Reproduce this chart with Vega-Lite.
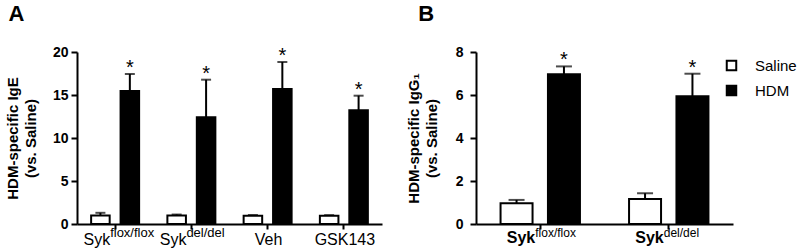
{
  "$schema": "https://vega.github.io/schema/vega-lite/v6.json",
  "padding": {"left": 5, "top": 3, "right": 0, "bottom": 0},
  "background": "white",
  "config": {
    "font": "Liberation Sans",
    "view": {"stroke": null},
    "concat": {"spacing": 24},
    "axis": {"grid": false, "domainColor": "black", "domainWidth": 2, "tickColor": "black", "tickWidth": 2, "tickSize": 6, "labelColor": "black", "titleColor": "black"}
  },
  "datasets": {
    "a": [
      {"group": "Sykflox", "treatment": "Saline", "mean": 1.0, "upper": 1.3, "sig": ""},
      {"group": "Sykflox", "treatment": "HDM", "mean": 15.47, "upper": 17.44, "sig": "*"},
      {"group": "Sykdel", "treatment": "Saline", "mean": 1.0, "upper": 1.1, "sig": ""},
      {"group": "Sykdel", "treatment": "HDM", "mean": 12.4, "upper": 16.78, "sig": "*"},
      {"group": "Veh", "treatment": "Saline", "mean": 0.95, "upper": 1.05, "sig": ""},
      {"group": "Veh", "treatment": "HDM", "mean": 15.7, "upper": 18.84, "sig": "*"},
      {"group": "GSK143", "treatment": "Saline", "mean": 0.95, "upper": 1.03, "sig": ""},
      {"group": "GSK143", "treatment": "HDM", "mean": 13.22, "upper": 14.92, "sig": "*"}
    ],
    "alab": [
      {"group": "Sykflox", "base": "Syk", "sup": "flox/flox", "plain": ""},
      {"group": "Sykdel", "base": "Syk", "sup": "del/del", "plain": ""},
      {"group": "Veh", "base": "", "sup": "", "plain": "Veh"},
      {"group": "GSK143", "base": "", "sup": "", "plain": "GSK143"}
    ],
    "b": [
      {"group": "Sykflox", "treatment": "Saline", "mean": 0.96, "upper": 1.12, "sig": ""},
      {"group": "Sykflox", "treatment": "HDM", "mean": 6.96, "upper": 7.33, "sig": "*"},
      {"group": "Sykdel", "treatment": "Saline", "mean": 1.16, "upper": 1.43, "sig": ""},
      {"group": "Sykdel", "treatment": "HDM", "mean": 5.94, "upper": 6.99, "sig": "*"}
    ],
    "blab": [
      {"group": "Sykflox", "base": "Syk", "sup": "flox/flox"},
      {"group": "Sykdel", "base": "Syk", "sup": "del/del"}
    ]
  },
  "hconcat": [
    {
      "width": 305,
      "height": 172,
      "title": {"text": "A", "anchor": "start", "frame": "bounds", "fontSize": 22, "fontWeight": "bold", "offset": 19, "dx": 3, "color": "black"},
      "layer": [
        {
          "data": {"name": "a"},
          "mark": {"type": "rule", "color": "black", "strokeWidth": 2},
          "encoding": {
            "x": {"field": "group", "type": "nominal", "scale": {"domain": ["Sykflox", "Sykdel", "Veh", "GSK143"], "paddingInner": 0, "paddingOuter": 0}, "axis": {"labels": false, "title": null, "tickSize": 5}},
            "xOffset": {"field": "treatment", "type": "nominal", "scale": {"domain": ["Saline", "HDM"], "paddingInner": 0.37, "paddingOuter": 0.48}},
            "y": {"field": "mean", "type": "quantitative", "scale": {"domain": [0, 20]}, "axis": {"values": [0, 5, 10, 15, 20], "labelFontSize": 14, "labelFontWeight": "bold", "labelPadding": 3, "title": ["HDM-specific IgE", "(vs. Saline)"], "titleFontSize": 15, "titleFontWeight": "bold", "titleLineHeight": 18, "titlePadding": 14}},
            "y2": {"field": "upper"}
          }
        },
        {
          "data": {"name": "a"},
          "mark": {"type": "tick", "orient": "horizontal", "size": 10, "thickness": 2, "color": "black"},
          "encoding": {
            "x": {"field": "group", "type": "nominal"},
            "xOffset": {"field": "treatment", "type": "nominal"},
            "y": {"field": "upper", "type": "quantitative"}
          }
        },
        {
          "data": {"name": "a"},
          "mark": {"type": "bar", "stroke": "black", "strokeWidth": 2},
          "encoding": {
            "x": {"field": "group", "type": "nominal"},
            "xOffset": {"field": "treatment", "type": "nominal"},
            "y": {"field": "mean", "type": "quantitative"},
            "fill": {"field": "treatment", "type": "nominal", "scale": {"domain": ["Saline", "HDM"], "range": ["white", "black"]}, "legend": null}
          }
        },
        {
          "data": {"name": "a"},
          "mark": {"type": "text", "fontSize": 20, "baseline": "alphabetic", "dy": 0, "color": "black"},
          "encoding": {
            "x": {"field": "group", "type": "nominal"},
            "xOffset": {"field": "treatment", "type": "nominal"},
            "y": {"field": "upper", "type": "quantitative"},
            "text": {"field": "sig"}
          }
        },
        {
          "data": {"name": "alab"},
          "mark": {"type": "text", "fontSize": 16, "align": "right", "baseline": "alphabetic", "dx": -5, "dy": 21, "color": "black"},
          "encoding": {
            "x": {"field": "group", "type": "nominal"},
            "y": {"datum": 0, "type": "quantitative"},
            "text": {"field": "base"}
          }
        },
        {
          "data": {"name": "alab"},
          "mark": {"type": "text", "fontSize": 13, "align": "left", "baseline": "alphabetic", "dx": -5, "dy": 13, "color": "black"},
          "encoding": {
            "x": {"field": "group", "type": "nominal"},
            "y": {"datum": 0, "type": "quantitative"},
            "text": {"field": "sup"}
          }
        },
        {
          "data": {"name": "alab"},
          "mark": {"type": "text", "fontSize": 16, "align": "center", "baseline": "alphabetic", "dx": 1, "dy": 21, "color": "black"},
          "encoding": {
            "x": {"field": "group", "type": "nominal"},
            "y": {"datum": 0, "type": "quantitative"},
            "text": {"field": "plain"}
          }
        }
      ]
    },
    {
      "width": 257,
      "height": 172,
      "title": {"text": "B", "anchor": "start", "frame": "bounds", "fontSize": 22, "fontWeight": "bold", "offset": 19, "dx": 12, "color": "black"},
      "layer": [
        {
          "data": {"name": "b"},
          "mark": {"type": "rule", "color": "black", "strokeWidth": 2},
          "encoding": {
            "x": {"field": "group", "type": "nominal", "scale": {"domain": ["Sykflox", "Sykdel"], "paddingInner": 0, "paddingOuter": 0}, "axis": {"labels": false, "title": null, "tickSize": 5}},
            "xOffset": {"field": "treatment", "type": "nominal", "scale": {"domain": ["Saline", "HDM"], "paddingInner": 0.325, "paddingOuter": 0.518}},
            "y": {"field": "mean", "type": "quantitative", "scale": {"domain": [0, 8]}, "axis": {"values": [0, 2, 4, 6, 8], "labelFontSize": 14, "labelFontWeight": "bold", "labelPadding": 7, "title": ["HDM-specific IgG₁", "(vs. Saline)"], "titleFontSize": 15, "titleFontWeight": "bold", "titleLineHeight": 18, "titlePadding": 16}},
            "y2": {"field": "upper"}
          }
        },
        {
          "data": {"name": "b"},
          "mark": {"type": "tick", "orient": "horizontal", "size": 16, "thickness": 2, "color": "black"},
          "encoding": {
            "x": {"field": "group", "type": "nominal"},
            "xOffset": {"field": "treatment", "type": "nominal"},
            "y": {"field": "upper", "type": "quantitative"}
          }
        },
        {
          "data": {"name": "b"},
          "mark": {"type": "bar", "stroke": "black", "strokeWidth": 2},
          "encoding": {
            "x": {"field": "group", "type": "nominal"},
            "xOffset": {"field": "treatment", "type": "nominal"},
            "y": {"field": "mean", "type": "quantitative"},
            "fill": {"field": "treatment", "type": "nominal", "scale": {"domain": ["Saline", "HDM"], "range": ["white", "black"]}, "legend": {"orient": "none", "legendX": 248, "legendY": 6, "title": null, "symbolType": "square", "symbolSize": 90, "symbolStrokeColor": "black", "symbolStrokeWidth": 2, "labelFontSize": 15, "labelOffset": 16, "rowPadding": 6, "labelColor": "black"}}
          }
        },
        {
          "data": {"name": "b"},
          "mark": {"type": "text", "fontSize": 20, "baseline": "alphabetic", "dy": 0, "color": "black"},
          "encoding": {
            "x": {"field": "group", "type": "nominal"},
            "xOffset": {"field": "treatment", "type": "nominal"},
            "y": {"field": "upper", "type": "quantitative"},
            "text": {"field": "sig"}
          }
        },
        {
          "data": {"name": "blab"},
          "mark": {"type": "text", "fontSize": 16, "fontWeight": "bold", "align": "right", "baseline": "alphabetic", "dx": -5, "dy": 19, "color": "black"},
          "encoding": {
            "x": {"field": "group", "type": "nominal"},
            "y": {"datum": 0, "type": "quantitative"},
            "text": {"field": "base"}
          }
        },
        {
          "data": {"name": "blab"},
          "mark": {"type": "text", "fontSize": 12, "align": "left", "baseline": "alphabetic", "dx": -5, "dy": 13, "color": "black"},
          "encoding": {
            "x": {"field": "group", "type": "nominal"},
            "y": {"datum": 0, "type": "quantitative"},
            "text": {"field": "sup"}
          }
        }
      ]
    }
  ],
  "resolve": {"scale": {"fill": "independent", "x": "independent", "y": "independent", "xOffset": "independent"}, "legend": {"fill": "independent"}}
}
